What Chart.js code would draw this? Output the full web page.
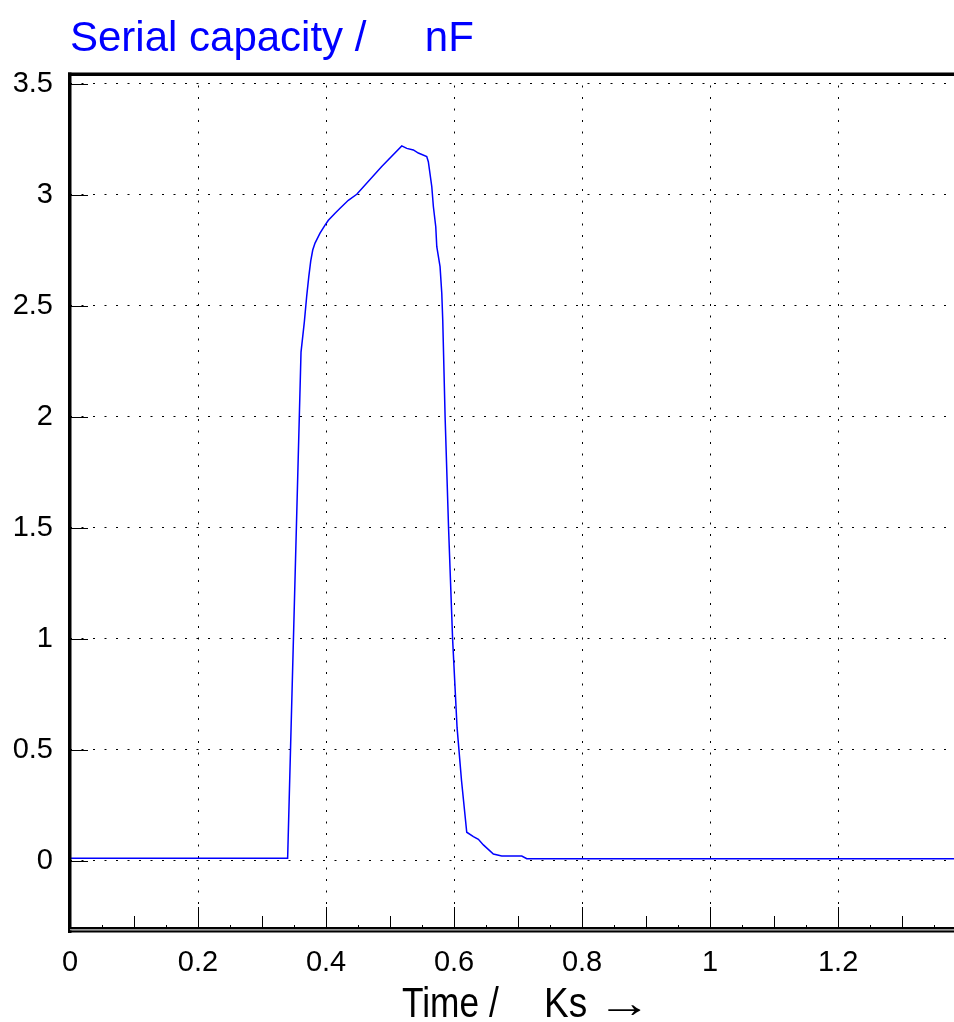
<!DOCTYPE html>
<html>
<head>
<meta charset="utf-8">
<script src="https://cdn.jsdelivr.net/npm/chart.js@4.4.1/dist/chart.umd.min.js"></script>
<style>
  html, body { margin: 0; padding: 0; background: #fff; }
  #wrap { width: 954px; height: 1022px; position: relative; }
</style>
</head>
<body>
<div id="wrap"><canvas id="c"></canvas></div>
<script>
// ---- data ----
const timeKs = [
  0, 0.340, 0.3609, 0.3661, 0.3698, 0.3730, 0.3761, 0.3792, 0.3828, 0.3906,
  0.3984, 0.4036, 0.4141, 0.4219, 0.4348, 0.4480, 0.4870, 0.5183, 0.5261, 0.5364,
  0.5442, 0.5573, 0.5598, 0.5652, 0.5677, 0.5714, 0.5730, 0.5781, 0.5808, 0.5823,
  0.5860, 0.5914, 0.5977, 0.6047, 0.6117, 0.6198, 0.6302, 0.6380, 0.6458, 0.6614,
  0.6745, 0.7058, 0.7136, 1.381
];
const capacityNF = [
  0.012, 0.012, 2.292, 2.428, 2.545, 2.631, 2.703, 2.752, 2.783, 2.828,
  2.864, 2.886, 2.918, 2.940, 2.976, 3.003, 3.128, 3.221, 3.210, 3.203,
  3.189, 3.173, 3.150, 3.037, 2.947, 2.857, 2.767, 2.677, 2.557, 2.437,
  2.0, 1.5, 1.0, 0.6, 0.36, 0.129, 0.109, 0.097, 0.072, 0.031,
  0.022, 0.022, 0.010, 0.010
];
const xTickValues = [0, 0.2, 0.4, 0.6, 0.8, 1, 1.2];
const yTickValues = [0, 0.5, 1, 1.5, 2, 2.5, 3, 3.5];
const xMinorStep = 0.05;
const titleText = 'Serial capacity /     nF';
const xTitleQuantity = 'Time /';
const xTitleUnit = 'Ks';
const xTitleArrow = '\u2192';

const points = timeKs.map((t, i) => ({ x: t, y: capacityNF[i] }));

function drawScaledText(ctx, text, x, y, sx) {
  ctx.save();
  ctx.translate(x, y);
  ctx.scale(sx, 1);
  ctx.fillText(text, 0, 0);
  ctx.restore();
}

const decor = {
  id: 'decor',
  afterDatasetsDraw(chart) {
    const ctx = chart.ctx;
    const a = chart.chartArea;
    const xs = chart.scales.x, ys = chart.scales.y;
    ctx.save();
    ctx.fillStyle = '#000';
    ctx.strokeStyle = '#000';
    ctx.lineWidth = 1;
    // y ticks (inward)
    yTickValues.forEach(v => {
      const py = Math.round(ys.getPixelForValue(v)) + 0.5;
      ctx.beginPath(); ctx.moveTo(a.left, py); ctx.lineTo(a.left + 18, py); ctx.stroke();
    });
    // x ticks (inward)
    const n = Math.floor(xs.max / xMinorStep + 1e-6);
    for (let i = 0; i <= n; i++) {
      const v = i * xMinorStep;
      const px = Math.round(xs.getPixelForValue(v)) + 0.5;
      let len = 4;
      if (i % 4 === 0) len = 22; else if (i % 2 === 0) len = 13;
      ctx.beginPath(); ctx.moveTo(px, a.bottom - 2); ctx.lineTo(px, a.bottom - 2 - len); ctx.stroke();
    }
    // top border
    ctx.fillRect(a.left - 2, a.top - 1.5, a.right - a.left + 2, 3.5);
    // left axis
    ctx.fillRect(a.left - 2, a.top - 1.5, 3.5, a.bottom - a.top + 3.5);
    // bottom double line
    ctx.fillRect(a.left - 2, a.bottom - 4, a.right - a.left + 2, 2);
    ctx.fillStyle = '#9a9a9a';
    ctx.fillRect(a.left, a.bottom - 2, a.right - a.left, 1.5);
    ctx.fillStyle = '#000';
    ctx.fillRect(a.left - 2, a.bottom - 0.5, a.right - a.left + 2, 2);

    // x-axis title (condensed, as in the reference)
    ctx.font = "42px 'Liberation Sans', Arial, sans-serif";
    ctx.textAlign = 'left';
    ctx.textBaseline = 'alphabetic';
    drawScaledText(ctx, xTitleQuantity, 402, 1017, 0.84);
    drawScaledText(ctx, xTitleUnit, 544, 1017, 0.88);
    const aw = ctx.measureText(xTitleArrow).width;
    drawScaledText(ctx, xTitleArrow, 597, 1017, 54 / aw);
    ctx.restore();
  }
};

new Chart(document.getElementById('c'), {
  type: 'line',
  data: {
    datasets: [{
      data: points,
      borderColor: '#0000FF',
      borderWidth: 1.5,
      pointRadius: 0,
      tension: 0,
      fill: false
    }]
  },
  options: {
    responsive: true,
    maintainAspectRatio: false,
    animation: false,
    layout: { padding: 0 },
    plugins: {
      legend: { display: false },
      tooltip: { enabled: false },
      title: {
        display: true,
        text: titleText,
        color: '#0000FF',
        align: 'start',
        fullSize: false,
        font: { family: "'Liberation Sans', Arial, sans-serif", size: 42, weight: 'normal', lineHeight: 1.2 },
        padding: { top: 14, bottom: 9.6 }
      }
    },
    scales: {
      x: {
        type: 'linear',
        min: 0,
        max: 1.381,
        afterBuildTicks: s => { s.ticks = xTickValues.map(v => ({ value: v })); },
        afterFit: s => { s.height = 91; },
        grid: { color: '#000', lineWidth: 1, drawTicks: false },
        border: { display: false, dash: [2, 9.5] },
        ticks: {
          color: '#000',
          padding: 15,
          maxRotation: 0,
          autoSkip: false,
          font: { family: "'Liberation Sans', Arial, sans-serif", size: 29 },
          callback: v => String(v)
        },
        title: { display: false }
      },
      y: {
        type: 'linear',
        min: -0.316,
        max: 3.545,
        afterBuildTicks: s => { s.ticks = yTickValues.map(v => ({ value: v })); },
        afterFit: s => { s.width = 70; },
        grid: { color: '#000', lineWidth: 1, drawTicks: false },
        border: { display: false, dash: [2, 9.5] },
        ticks: {
          color: '#000',
          padding: 17,
          autoSkip: false,
          font: { family: "'Liberation Sans', Arial, sans-serif", size: 29 },
          callback: v => String(v)
        }
      }
    }
  },
  plugins: [decor]
});
</script>
</body>
</html>
